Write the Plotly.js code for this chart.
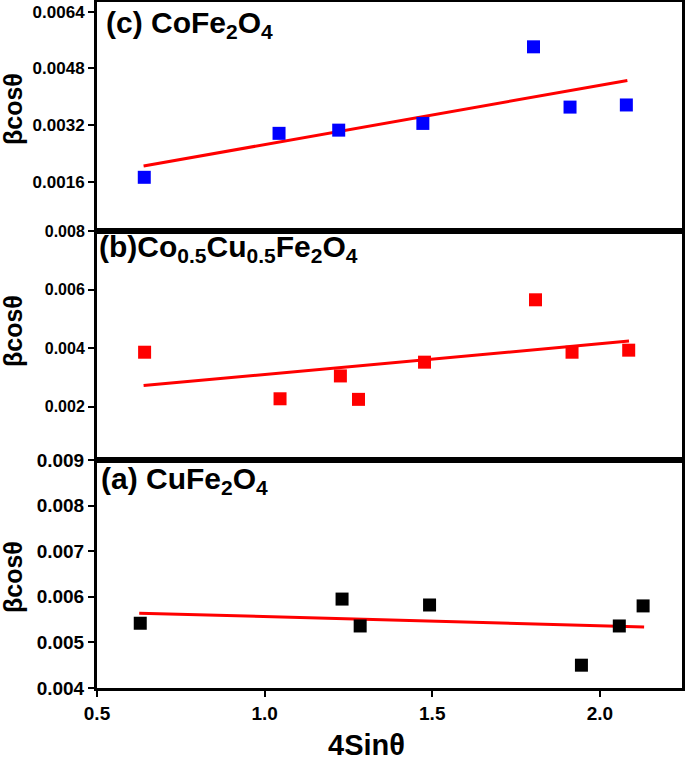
<!DOCTYPE html>
<html>
<head>
<meta charset="utf-8">
<script src="https://cdn.plot.ly/plotly-3.0.1.min.js"></script>
<style>html,body{margin:0;padding:0;background:#fff;}#chart{width:685px;height:759px;}</style>
</head>
<body>
<div id="chart"></div>
<script>
// Panel (c) CoFe2O4
const xC = [0.641, 1.043, 1.221, 1.472, 1.802, 1.911, 2.079];
const yC = [0.00173, 0.00297, 0.00306, 0.00325, 0.00541, 0.00371, 0.00377];
const fitXC = [0.639, 2.082];
const fitYC = [0.00205, 0.00446];
// Panel (b) Co0.5Cu0.5Fe2O4
const xB = [0.642, 1.046, 1.226, 1.280, 1.477, 1.808, 1.917, 2.086];
const yB = [0.00386, 0.00227, 0.00305, 0.00225, 0.00352, 0.00565, 0.00386, 0.00393];
const fitXB = [0.639, 2.087];
const fitYB = [0.00272, 0.00424];
// Panel (a) CuFe2O4
const xA = [0.629, 1.231, 1.285, 1.492, 1.945, 2.058, 2.129];
const yA = [0.00542, 0.00595, 0.00536, 0.00582, 0.00450, 0.00536, 0.00580];
const fitXA = [0.626, 2.132];
const fitYA = [0.00564, 0.00534];

// tick labels
const xTickVals = [0.5, 1.0, 1.5, 2.0];
const xTickText = ['0.5', '1.0', '1.5', '2.0'];
const yTickValsC = [0.0016, 0.0032, 0.0048, 0.0064];
const yTickTextC = ['0.0016', '0.0032', '0.0048', '0.0064'];
const yTickValsB = [0.002, 0.004, 0.006, 0.008];
const yTickTextB = ['0.002', '0.004', '0.006', '0.008'];
const yTickValsA = [0.004, 0.005, 0.006, 0.007, 0.008, 0.009];
const yTickTextA = ['0.004', '0.005', '0.006', '0.007', '0.008', '0.009'];

const FONT = 'Liberation Sans, Arial, sans-serif';

function pts(x, y, color, xa, ya) {
  return {x: x, y: y, type: 'scatter', mode: 'markers', xaxis: xa, yaxis: ya,
    marker: {symbol: 'square', size: 13, color: color}, showlegend: false, hoverinfo: 'skip'};
}
function fit(x, y, xa, ya) {
  return {x: x, y: y, type: 'scatter', mode: 'lines', xaxis: xa, yaxis: ya,
    line: {color: '#ff0000', width: 3}, showlegend: false, hoverinfo: 'skip'};
}

const data = [
  fit(fitXA, fitYA, 'x', 'y'), pts(xA, yA, '#000000', 'x', 'y'),
  fit(fitXB, fitYB, 'x2', 'y2'), pts(xB, yB, '#ff0000', 'x2', 'y2'),
  fit(fitXC, fitYC, 'x3', 'y3'), pts(xC, yC, '#0000ff', 'x3', 'y3')
];

const xRange = [0.5, 2.245];
function xax(anchor, showLabels) {
  return {anchor: anchor, range: xRange, showgrid: false, zeroline: false,
    showline: true, linewidth: 3, linecolor: '#000', mirror: true,
    tickmode: 'array', tickvals: xTickVals, ticktext: xTickText, showticklabels: showLabels,
    ticks: showLabels ? 'outside' : '', ticklen: 6, tickwidth: 2, tickcolor: '#000',
    tickfont: {family: FONT, size: 19, color: '#000', weight: 'bold'}};
}
function yax(anchor, domain, range, vals, text, fs) {
  return {anchor: anchor, domain: domain, range: range, showgrid: false, zeroline: false,
    showline: true, linewidth: 3, linecolor: '#000', mirror: true,
    tickmode: 'array', tickvals: vals, ticktext: text, ticks: 'outside', ticklen: 6, tickwidth: 2,
    tickcolor: '#000', tickfont: {family: FONT, size: fs, color: '#000', weight: 'bold'}};
}

const H = 686, W = 585, L = 97, B = 688;
function px2x(px) { return (px - L) / W; }
function py2y(py) { return (B - py) / H; }

const annotations = [
  {text: '(c) CoFe<sub>2</sub>O<sub>4</sub>', x: px2x(104), y: py2y(4)},
  {text: '(b)Co<sub>0.5</sub>Cu<sub>0.5</sub>Fe<sub>2</sub>O<sub>4</sub>', x: px2x(97), y: py2y(228)},
  {text: '(a) CuFe<sub>2</sub>O<sub>4</sub>', x: px2x(99), y: py2y(460)}
].map(a => Object.assign(a, {xref: 'paper', yref: 'paper', showarrow: false,
  xanchor: 'left', yanchor: 'top', font: {family: FONT, size: 30, color: '#000', weight: 'bold'}}));

[109, 331, 577].forEach(cy => annotations.push({
  text: 'βcosθ', x: px2x(13), y: py2y(cy), xref: 'paper', yref: 'paper',
  xanchor: 'center', yanchor: 'middle', textangle: -90, showarrow: false,
  font: {family: FONT, size: 25, color: '#000', weight: 'bold'}
}));
annotations.push({text: '4Sinθ', x: px2x(366), y: py2y(745), xref: 'paper', yref: 'paper',
  xanchor: 'center', yanchor: 'middle', showarrow: false,
  font: {family: FONT, size: 29, color: '#000', weight: 'bold'}});

const layout = {
  width: 685, height: 759,
  font: {family: FONT, size: 16, color: '#000'},
  margin: {l: L, r: 3, t: 2, b: 759 - B, pad: 0},
  paper_bgcolor: '#fff', plot_bgcolor: '#fff',
  xaxis: xax('y', true),
  xaxis2: Object.assign(xax('y2', false), {matches: 'x'}),
  xaxis3: Object.assign(xax('y3', false), {matches: 'x'}),
  yaxis: yax('x', [0, 0.3324], [0.004, 0.009], yTickValsA, yTickTextA, 19),
  yaxis2: yax('x2', [0.3324, 0.6662], [0.00018, 0.008], yTickValsB, yTickTextB, 16),
  yaxis3: yax('x3', [0.6662, 1], [0.000216, 0.006674], yTickValsC, yTickTextC, 17),
  annotations: annotations,
  showlegend: false
};

Plotly.newPlot('chart', data, layout, {displayModeBar: false, staticPlot: true});
</script>
</body>
</html>
